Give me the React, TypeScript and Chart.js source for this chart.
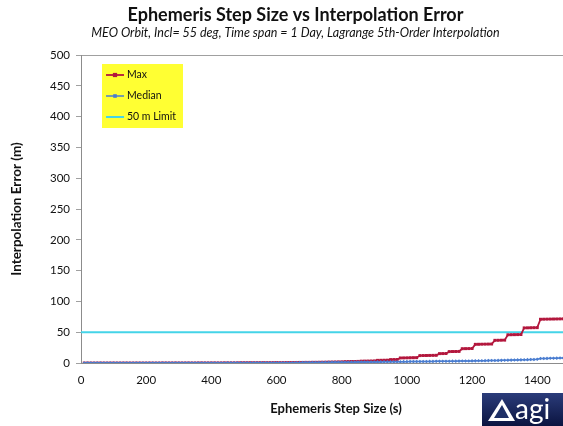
import React, { useEffect, useRef } from 'react';
import { Chart, registerables } from 'chart.js';

Chart.register(...registerables);

// ---------- data ----------
const stepSizes = [
  10, 20, 30, 40, 50, 60, 70, 80, 90, 100,
  110, 120, 130, 140, 150, 160, 170, 180, 190, 200,
  210, 220, 230, 240, 250, 260, 270, 280, 290, 300,
  310, 320, 330, 340, 350, 360, 370, 380, 390, 400,
  410, 420, 430, 440, 450, 460, 470, 480, 490, 500,
  510, 520, 530, 540, 550, 560, 570, 580, 590, 600,
  610, 620, 630, 640, 650, 660, 670, 680, 690, 700,
  710, 720, 730, 740, 750, 760, 770, 780, 790, 800,
  810, 820, 830, 840, 850, 860, 870, 880, 890, 900,
  910, 920, 930, 940, 950, 960, 970, 980, 990, 1000,
  1010, 1020, 1030, 1040, 1050, 1060, 1070, 1080, 1090, 1100,
  1110, 1120, 1130, 1140, 1150, 1160, 1170, 1180, 1190, 1200,
  1210, 1220, 1230, 1240, 1250, 1260, 1270, 1280, 1290, 1300,
  1310, 1320, 1330, 1340, 1350, 1360, 1370, 1380, 1390, 1400,
  1410, 1420, 1430, 1440, 1450, 1460, 1470, 1480, 1490,
];

const maxError = [
  0.0, 0.0, 0.0, 0.0, 0.0, 0.0, 0.0, 0.0, 0.0, 0.0,
  0.0, 0.0, 0.0, 0.0, 0.0, 0.0, 0.0, 0.0, 0.0, 0.0,
  0.0, 0.0, 0.0, 0.0, 0.1, 0.1, 0.1, 0.1, 0.1, 0.1,
  0.1, 0.1, 0.1, 0.1, 0.1, 0.2, 0.2, 0.2, 0.2, 0.2,
  0.2, 0.2, 0.2, 0.3, 0.3, 0.3, 0.3, 0.3, 0.4, 0.4,
  0.4, 0.4, 0.4, 0.5, 0.5, 0.5, 0.5, 0.6, 0.6, 0.6,
  0.6, 0.7, 0.7, 0.7, 0.8, 0.8, 0.9, 0.9, 1.0, 1.0,
  1.1, 1.1, 1.2, 1.3, 1.3, 1.5, 1.6, 1.7, 1.8, 1.9,
  2.2, 2.3, 2.4, 2.5, 2.6, 3.0, 3.1, 3.2, 3.3, 3.4,
  4.3, 4.4, 4.5, 4.6, 5.5, 5.6, 5.7, 8.2, 8.3, 8.4,
  8.5, 8.6, 8.7, 12.0, 12.1, 12.2, 12.3, 12.4, 12.5, 15.2,
  15.3, 15.4, 18.5, 18.6, 18.7, 18.8, 23.2, 23.3, 23.4, 23.5,
  30.3, 30.4, 30.5, 30.6, 30.7, 30.8, 36.8, 36.9, 37.0, 37.1,
  45.8, 45.9, 46.0, 46.1, 46.2, 57.0, 57.1, 57.2, 57.3, 57.4,
  71.0, 71.1, 71.2, 71.3, 71.4, 71.5, 71.6, 71.7, 71.8,
];

const medianError = [
  0.0, 0.0, 0.0, 0.0, 0.0, 0.0, 0.0, 0.0, 0.0, 0.0,
  0.0, 0.0, 0.0, 0.0, 0.0, 0.0, 0.0, 0.0, 0.0, 0.0,
  0.0, 0.0, 0.0, 0.0, 0.0, 0.0, 0.1, 0.1, 0.1, 0.1,
  0.1, 0.1, 0.1, 0.1, 0.1, 0.1, 0.1, 0.1, 0.1, 0.1,
  0.1, 0.1, 0.1, 0.1, 0.2, 0.2, 0.2, 0.2, 0.2, 0.2,
  0.2, 0.2, 0.3, 0.3, 0.3, 0.3, 0.3, 0.4, 0.4, 0.4,
  0.4, 0.4, 0.5, 0.5, 0.5, 0.6, 0.6, 0.7, 0.7, 0.7,
  0.8, 0.8, 0.9, 0.9, 1.0, 1.0, 1.1, 1.1, 1.2, 1.2,
  1.3, 1.3, 1.4, 1.4, 1.5, 1.5, 1.6, 1.6, 1.7, 1.7,
  1.8, 1.8, 1.9, 1.9, 2.0, 2.0, 2.1, 2.1, 2.2, 2.2,
  2.3, 2.3, 2.4, 2.4, 2.5, 2.5, 2.6, 2.6, 2.7, 2.7,
  2.8, 2.8, 2.9, 3.0, 3.0, 3.1, 3.2, 3.2, 3.3, 3.4,
  3.5, 3.6, 3.7, 3.8, 3.9, 4.0, 4.1, 4.2, 4.3, 4.4,
  4.6, 4.7, 4.8, 5.0, 5.1, 5.3, 5.4, 5.6, 5.8, 6.0,
  7.2, 7.3, 7.5, 7.6, 7.8, 7.9, 8.1, 8.2, 8.3,
];

const limitValue = 50;
const seriesNames = ['Max', 'Median', '50 m Limit'];
const seriesColors = ['#B3173D', '#4A7DD0', '#45D4E8'];
const xTickValues = [0, 200, 400, 600, 800, 1000, 1200, 1400];
const yTickValues = [0, 50, 100, 150, 200, 250, 300, 350, 400, 450, 500];
const xMin = 0;
const xMax = 1565;
const yMin = 0;
const yMax = 500;

const titleText = 'Ephemeris Step Size vs Interpolation Error';
const subtitleText = 'MEO Orbit, Incl= 55 deg, Time span = 1 Day, Lagrange 5th-Order Interpolation';
const xTitleText = 'Ephemeris Step Size (s)';
const yTitleText = 'Interpolation Error (m)';
const logoText = 'agi';

// the picture is a 563-wide view of a slightly wider chart
const VIEW_W = 563;
const VIEW_H = 426;
const CHART_W = 596;

const FONT = 'Lato, "Open Sans", "DejaVu Sans", sans-serif';

// ---------- plugins ----------
const boxLegendPlugin = {
  id: 'boxLegend',
  afterDraw(chart: any) {
    const { ctx, chartArea } = chart;
    const left = chartArea.left + 21;
    const top = chartArea.top + 9;
    const w = 81;
    const h = 64;
    ctx.save();
    ctx.fillStyle = '#FFFF33';
    ctx.fillRect(left, top, w, h);
    ctx.font = `10.5px ${FONT}`;
    ctx.textBaseline = 'middle';
    chart.data.datasets.forEach((ds: any, i: number) => {
      const y = top + 11 + i * 21;
      ctx.strokeStyle = ds.borderColor;
      ctx.lineWidth = ds.borderWidth;
      ctx.beginPath();
      ctx.moveTo(left + 4, y);
      ctx.lineTo(left + 22, y);
      ctx.stroke();
      if (ds.pointRadius > 0) {
        ctx.fillStyle = ds.borderColor;
        const r = ds.pointRadius;
        ctx.fillRect(left + 13 - r, y - r, r * 2, r * 2);
      }
      ctx.fillStyle = '#111';
      ctx.fillText(ds.label, left + 25, y);
    });
    ctx.restore();
  },
};

const logoPlugin = {
  id: 'logo',
  afterDraw(chart: any) {
    const { ctx } = chart;
    const x = VIEW_W - 81;
    const y = VIEW_H - 33;
    ctx.save();
    const g = ctx.createLinearGradient(0, y, 0, VIEW_H);
    g.addColorStop(0, '#2B3C7A');
    g.addColorStop(1, '#0B1440');
    ctx.fillStyle = g;
    ctx.fillRect(x, y, 81, 33);
    ctx.fillStyle = '#FFFFFF';
    ctx.beginPath();
    ctx.moveTo(x + 6, y + 28);
    ctx.lineTo(x + 20, y + 6);
    ctx.lineTo(x + 33, y + 28);
    ctx.closePath();
    ctx.fill();
    ctx.fillStyle = '#1E2F66';
    ctx.beginPath();
    ctx.moveTo(x + 12, y + 25);
    ctx.lineTo(x + 20, y + 12);
    ctx.lineTo(x + 27, y + 25);
    ctx.closePath();
    ctx.fill();
    ctx.fillStyle = '#FFFFFF';
    ctx.font = `28px ${FONT}`;
    ctx.textBaseline = 'alphabetic';
    ctx.fillText(logoText, x + 33, y + 26);
    ctx.restore();
  },
};

export default function App() {
  const canvasRef = useRef<HTMLCanvasElement | null>(null);

  useEffect(() => {
    const canvas = canvasRef.current;
    if (!canvas) return;
    const chart = new Chart(canvas, {
      type: 'line',
      data: {
        datasets: [
          {
            label: seriesNames[0],
            data: stepSizes.map((s, i) => ({ x: s, y: maxError[i] })),
            borderColor: seriesColors[0],
            backgroundColor: seriesColors[0],
            borderWidth: 1.8,
            pointStyle: 'rect',
            pointRadius: 2.1,
            pointBorderWidth: 0,
            pointHoverRadius: 2.1,
            fill: false,
            order: 1,
          },
          {
            label: seriesNames[1],
            data: stepSizes.map((s, i) => ({ x: s, y: medianError[i] })),
            borderColor: seriesColors[1],
            backgroundColor: seriesColors[1],
            borderWidth: 1.5,
            pointStyle: 'rectRot',
            pointRadius: 1.8,
            pointBorderWidth: 0,
            pointHoverRadius: 1.8,
            fill: false,
            order: 0,
          },
          {
            label: seriesNames[2],
            data: [
              { x: xMin, y: limitValue },
              { x: xMax, y: limitValue },
            ],
            borderColor: seriesColors[2],
            backgroundColor: seriesColors[2],
            borderWidth: 2,
            pointRadius: 0,
            pointHoverRadius: 0,
            fill: false,
            order: 2,
          },
        ],
      },
      options: {
        animation: false,
        responsive: false,
        maintainAspectRatio: false,
        layout: { padding: { left: 0, right: 5, top: 0, bottom: 0 } },
        plugins: {
          legend: { display: false },
          tooltip: { enabled: false },
          title: {
            display: true,
            text: titleText,
            color: '#111',
            font: { family: FONT, size: 18, weight: 'bold', lineHeight: 1 },
            padding: { top: 6, bottom: -1 },
          },
          subtitle: {
            display: true,
            text: subtitleText,
            color: '#111',
            font: { family: FONT, size: 12.5, style: 'italic', lineHeight: 1 },
            padding: { top: 4, bottom: 15.5 },
          },
        },
        scales: {
          x: {
            type: 'linear',
            min: xMin,
            max: xMax,
            afterBuildTicks: (scale: any) => {
              scale.ticks = xTickValues.map((v) => ({ value: v }));
            },
            afterFit: (scale: any) => {
              scale.height = 63;
            },
            ticks: {
              color: '#111',
              font: { family: FONT, size: 11.5 },
              padding: 2,
              maxRotation: 0,
              callback: (v: any) => String(v),
            },
            grid: { display: false },
            border: { display: true, color: '#8C8C8C', width: 1 },
            title: {
              display: true,
              text: xTitleText,
              color: '#111',
              font: { family: FONT, size: 13, weight: 'bold' },
              padding: { top: 0, bottom: 9 },
            },
          },
          y: {
            type: 'linear',
            min: yMin,
            max: yMax,
            afterBuildTicks: (scale: any) => {
              scale.ticks = yTickValues.map((v) => ({ value: v }));
            },
            afterFit: (scale: any) => {
              scale.width = 81;
            },
            ticks: {
              color: '#111',
              font: { family: FONT, size: 11.5 },
              padding: 6,
              callback: (v: any) => String(v),
            },
            grid: {
              drawOnChartArea: true,
              color: (ctx: any) => (ctx.tick && ctx.tick.value === yMax ? '#A0A0A0' : 'rgba(0,0,0,0)'),
              tickColor: '#A0A0A0',
              tickLength: 5,
            },
            border: { display: true, color: '#8C8C8C', width: 1 },
            title: {
              display: true,
              text: yTitleText,
              color: '#111',
              font: { family: FONT, size: 13.5, weight: 'bold' },
              padding: { top: 9, bottom: 0 },
            },
          },
        },
      } as any,
      plugins: [boxLegendPlugin, logoPlugin],
    });
    return () => chart.destroy();
  }, []);

  return (
    <div style={{ position: 'fixed', left: 0, top: 0, width: VIEW_W, height: VIEW_H, background: '#fff', overflow: 'hidden' }}>
      <canvas ref={canvasRef} width={CHART_W} height={VIEW_H} style={{ display: 'block', width: CHART_W, height: VIEW_H }} />
    </div>
  );
}
